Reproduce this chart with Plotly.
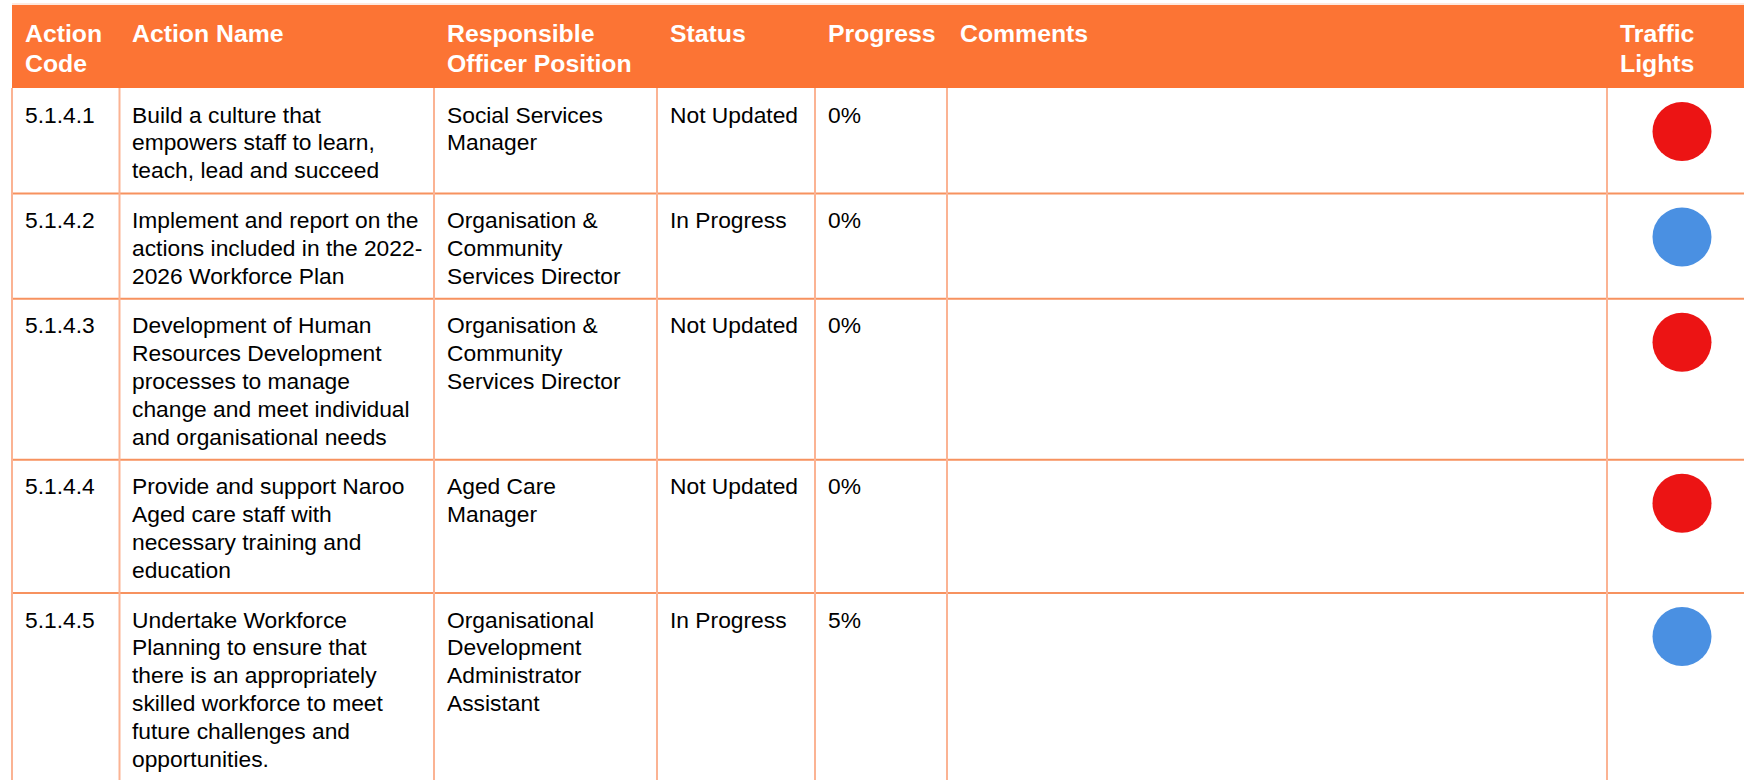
import plotly.graph_objects as go

# ---------------- data ----------------
headers = ["Action\nCode", "Action Name", "Responsible\nOfficer Position", "Status",
           "Progress", "Comments", "Traffic\nLights"]
codes = ["5.1.4.1", "5.1.4.2", "5.1.4.3", "5.1.4.4", "5.1.4.5"]
names = [
    "Build a culture that\nempowers staff to learn,\nteach, lead and succeed",
    "Implement and report on the\nactions included in the 2022-\n2026 Workforce Plan",
    "Development of Human\nResources Development\nprocesses to manage\nchange and meet individual\nand organisational needs",
    "Provide and support Naroo\nAged care staff with\nnecessary training and\neducation",
    "Undertake Workforce\nPlanning to ensure that\nthere is an appropriately\nskilled workforce to meet\nfuture challenges and\nopportunities.",
]
officers = [
    "Social Services\nManager",
    "Organisation &\nCommunity\nServices Director",
    "Organisation &\nCommunity\nServices Director",
    "Aged Care\nManager",
    "Organisational\nDevelopment\nAdministrator\nAssistant",
]
statuses = ["Not Updated", "In Progress", "Not Updated", "Not Updated", "In Progress"]
progress = [0, 0, 0, 0, 5]
comments = ["", "", "", "", ""]
lights = ["red", "blue", "red", "red", "blue"]

# ---------------- style / layout ----------------
W, H = 1744, 780
ORANGE = "#FC7434"
HLINE = "#F7925F"
VLINE = "#FBB393"
LIGHT_COLORS = {"red": "#EC1414", "blue": "#4A90E2"}
FONT = "Liberation Sans, Arial, sans-serif"

col_lines = [12, 119.5, 434, 657, 815, 947, 1607]
PAD = 10.5
header_top, header_bot = 5, 88
header_baselines = [42, 72]
H_FS = 24.8
B_FS = 22.8
LINE_H = 27.8
ROW_EXTRA = 22
FIRST_BASE = 34.5
LIGHT_X = 1682
LIGHT_DY = 43.5

shapes = []
annotations = []

def add_text(x, baseline, text, size, color, bold=False):
    annotations.append(dict(
        x=x, y=baseline - 0.35 * size, xref="x", yref="y",
        text=f"<b>{text}</b>" if bold else text,
        showarrow=False, xanchor="left", yanchor="middle",
        font=dict(family=FONT, size=size, color=color),
    ))

# header
shapes.append(dict(type="line", x0=col_lines[0], x1=W, y0=header_top - 1, y1=header_top - 1,
                   line=dict(color="#FCD2BE", width=1), layer="below"))
shapes.append(dict(type="rect", x0=col_lines[0], x1=W, y0=header_top, y1=header_bot,
                   fillcolor=ORANGE, line=dict(width=0), layer="below"))
for i, h in enumerate(headers):
    for j, line in enumerate(h.split("\n")):
        add_text(col_lines[i] + PAD, header_baselines[j], line, H_FS, "white", bold=True)

# rows
row_tops = []
y = header_bot
for i in range(len(codes)):
    cells = [codes[i], names[i], officers[i], statuses[i], f"{progress[i]}%", comments[i]]
    nlines = max(len(c.split("\n")) for c in cells)
    row_tops.append(y)
    for ci, c in enumerate(cells):
        for j, line in enumerate(c.split("\n")):
            if line:
                add_text(col_lines[ci] + PAD, y + FIRST_BASE + j * LINE_H, line, B_FS, "black")
    y = y + nlines * LINE_H + ROW_EXTRA
    shapes.append(dict(type="line", x0=col_lines[0], x1=W, y0=y, y1=y,
                       line=dict(color=HLINE, width=2), layer="below"))

for x in col_lines:
    shapes.append(dict(type="line", x0=x, x1=x, y0=header_bot, y1=H,
                       line=dict(color=VLINE, width=2), layer="below"))

fig = go.Figure()
fig.add_trace(go.Scatter(
    x=[LIGHT_X] * len(lights),
    y=[t + LIGHT_DY for t in row_tops],
    mode="markers",
    marker=dict(size=59, color=[LIGHT_COLORS[l] for l in lights], line=dict(width=0)),
    hoverinfo="skip", showlegend=False,
))

fig.update_layout(
    width=W, height=H,
    margin=dict(l=0, r=0, t=0, b=0),
    paper_bgcolor="white", plot_bgcolor="white",
    xaxis=dict(range=[0, W], visible=False, fixedrange=True),
    yaxis=dict(range=[H, 0], visible=False, fixedrange=True),
    shapes=shapes, annotations=annotations,
    showlegend=False,
)

fig.write_html("out.html", config={"displayModeBar": False},
               post_script="document.body.style.margin='0';document.body.style.overflow='hidden';")
